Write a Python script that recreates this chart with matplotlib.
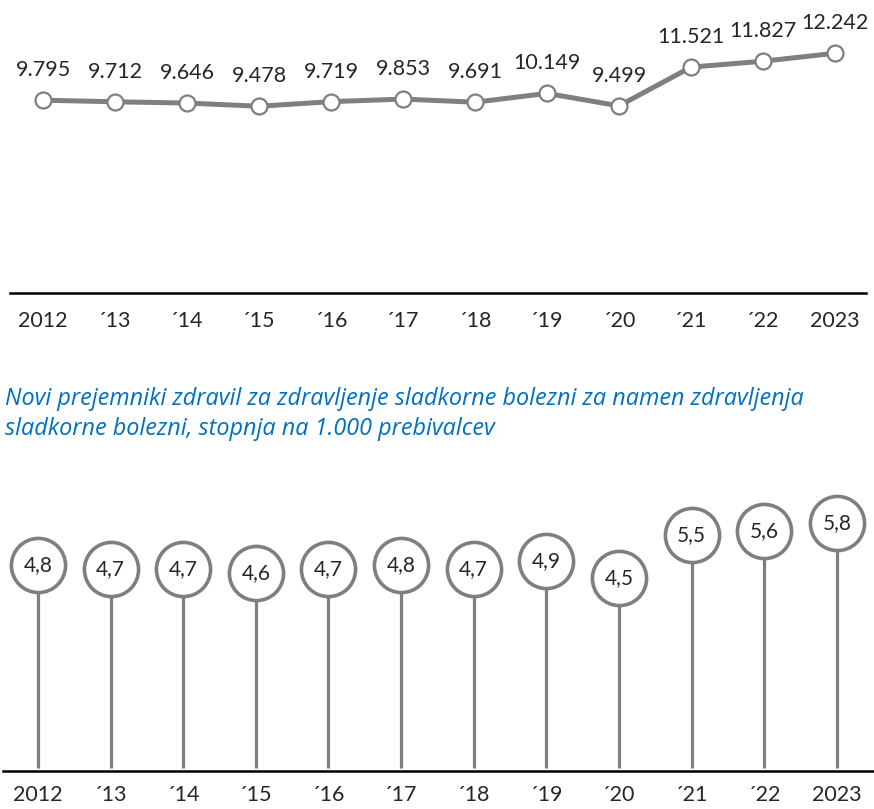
import matplotlib
matplotlib.use("Agg")
import matplotlib.pyplot as plt

years = ["2012", "´13", "´14", "´15", "´16", "´17", "´18", "´19", "´20", "´21", "´22", "2023"]
recipients = [9795, 9712, 9646, 9478, 9719, 9853, 9691, 10149, 9499, 11521, 11827, 12242]
recipient_labels = ["9.795", "9.712", "9.646", "9.478", "9.719", "9.853", "9.691", "10.149", "9.499", "11.521", "11.827", "12.242"]
rate = [4.8, 4.7, 4.7, 4.6, 4.7, 4.8, 4.7, 4.9, 4.5, 5.5, 5.6, 5.8]
rate_labels = ["4,8", "4,7", "4,7", "4,6", "4,7", "4,8", "4,7", "4,9", "4,5", "5,5", "5,6", "5,8"]
title = ("Novi prejemniki zdravil za zdravljenje sladkorne bolezni za namen zdravljenja\n"
         "sladkorne bolezni, stopnja na 1.000 prebivalcev")

plt.rcParams['font.family'] = ['Lato', 'DejaVu Sans']
W, H = 874, 809
fig = plt.figure(figsize=(W / 100, H / 100), dpi=100)
grey = "#7f7f7f"

def ax_px(l, t, r, b):
    return fig.add_axes([l / W, 1 - b / H, (r - l) / W, (b - t) / H])

x = list(range(len(years)))

# Top chart
ax1 = ax_px(10, 0, 866, 293)
ax1.plot(x, recipients, color=grey, lw=3.6, marker='o', ms=11.5, mfc='white',
         mec=grey, mew=1.6, zorder=3, clip_on=False)
for xi, v, lab in zip(x, recipients, recipient_labels):
    ax1.annotate(lab, (xi, v), xytext=(0, 30), textcoords='offset pixels',
                 ha='center', va='center', fontsize=15.5, color='#262626')
ax1.set_xlim(-0.46, 11.43)
ax1.set_ylim(-260, 15020)
ax1.set_xticks(x)
ax1.set_xticklabels(years, fontsize=15.5, color='#262626')
ax1.tick_params(axis='x', length=0, pad=13)
ax1.set_yticks([])
for s in ['top', 'right', 'left']:
    ax1.spines[s].set_visible(False)
ax1.spines['bottom'].set_color('black')
ax1.spines['bottom'].set_linewidth(1.8)

# Title
fig.text(5 / W, 1 - 414 / H, title, ha='left', va='center', fontsize=16.8,
         family=['Open Sans', 'DejaVu Sans'], style='italic', color='#0070C0',
         linespacing=1.38)

# Bottom chart
ax2 = ax_px(3, 460, 874, 771)
ax2.vlines(x, 0, rate, color=grey, lw=2.3, zorder=1)
ax2.plot(x, rate, ls='none', marker='o', ms=39, mfc='white', mec=grey, mew=2.6,
         zorder=3, clip_on=False)
for xi, v, lab in zip(x, rate, rate_labels):
    ax2.text(xi, v, lab, ha='center', va='center', fontsize=15, color='#262626', zorder=4)
ax2.set_xlim(-0.48, 11.51)
ax2.set_ylim(-0.07, 7.28)
ax2.set_xticks(x)
ax2.set_xticklabels(years, fontsize=15.5, color='#262626')
ax2.tick_params(axis='x', length=0, pad=10)
ax2.set_yticks([])
for s in ['top', 'right', 'left']:
    ax2.spines[s].set_visible(False)
ax2.spines['bottom'].set_color('black')
ax2.spines['bottom'].set_linewidth(1.8)

fig.savefig("out.png", dpi=100)
